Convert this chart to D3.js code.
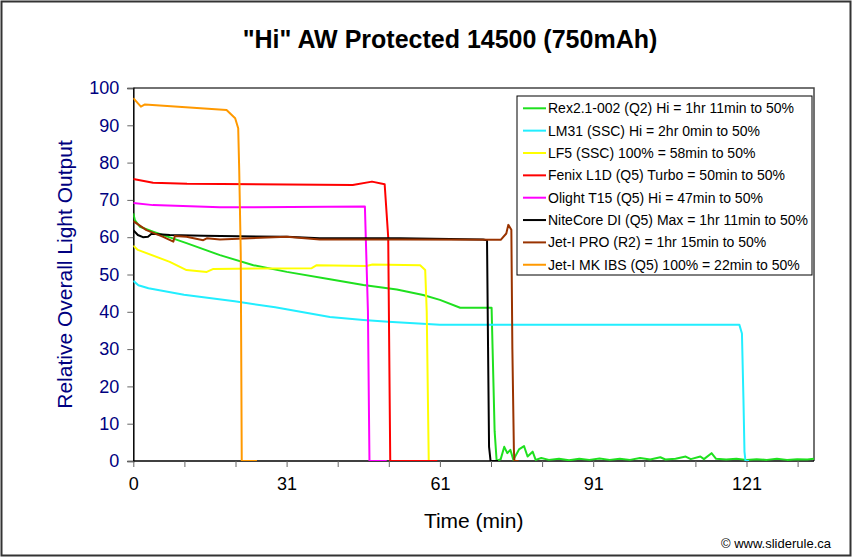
<!DOCTYPE html>
<html lang="en">
<head>
    <meta charset="UTF-8">
    <title>"Hi" AW Protected 14500 (750mAh)</title>
    <style>
        body {
            margin: 0;
            background-color: #fff;
            font-family: Arial, 'Liberation Sans', sans-serif;
        }
        .series {
            fill: none;
            stroke-width: 2;
            stroke-linejoin: round;
        }
    </style>
    <script src="https://d3js.org/d3.v7.min.js"></script>
</head>
<body>
    <div id="chart"></div>
    <script>
        var width = 855;
        var height = 560;

        // Series data: [minutes, relative output]
        var rex = [[0,66.4],[0.3,64.6],[1.3,62.8],[3.9,61.5],[10.5,58.4],[17.1,55.2],[23.7,52.5],[30.3,50.7],
            [38.8,48.7],[45.4,47.2],[52,46],[57.2,44.5],[60.5,43.2],[64.5,41.1],[70.7,41.1],[70.9,30],[71.3,8],
            [71.7,0],[72.5,0.5],[73.2,3.8],[73.8,2.1],[74.4,3.0],[75,0.3],[76.1,3.1],[77.1,4.0],[77.8,1.2],
            [78.8,2.5],[79.4,0.3],[80.5,0.8],[82,0.3],[84,0.6],[86,0.2],[88,0.6],[90,0.3],[92,0.7],[94,0.3],
            [96,0.6],[98,0.3],[100,0.8],[102,0.4],[104,1.0],[105,0.4],[107,0.6],[109,1.2],[110,0.5],[111.9,1.2],
            [112.6,0.5],[114.1,2.1],[115,0.6],[117,0.4],[119,0.6],[121,0.3],[123,0.5],[125,0.3],[127,0.6],
            [129,0.3],[131,0.5],[133,0.4],[134.3,0.6]];
        var lm31 = [[0,48.3],[1,47.1],[3,46.3],[10,44.6],[20,42.8],[28,41.2],[38.8,38.6],[45.4,37.8],[50.3,37.3],
            [60.5,36.5],[119.6,36.5],[120.1,34.2],[120.4,16.4],[120.6,2.5],[120.8,0],[121.5,0]];
        var lf5 = [[0,57.7],[0.9,56.6],[7.2,53.4],[10.5,51.2],[14.5,50.7],[15.8,51.5],[35.2,51.7],[36.2,52.5],
            [46,52.3],[47.2,52.7],[56.6,52.5],[57.6,51.2],[57.9,40],[58.3,0],[59.5,0]];
        var fenix = [[0,75.6],[3.9,74.6],[10.6,74.3],[43.3,74.0],[47.1,74.9],[49.6,74.2],[50.3,60],[50.7,0],[60,0]];
        var olight = [[0,69.2],[3.9,68.6],[17.1,68.0],[45.7,68.2],[46.3,40],[46.6,0],[50,0]];
        var nitecore = [[0,61.9],[0.9,60.6],[1.9,60.0],[2.9,60.1],[3.6,60.9],[7.2,60.6],[13.8,60.4],[30.3,60.1],
            [36.8,59.7],[52.6,59.7],[69,59.4],[69.8,59.2],[70.0,30.6],[70.2,3.8],[70.5,0],[72,0]];
        var jetPro = [[0,64.3],[2.6,61.9],[5.9,60.1],[7.9,58.8],[8.2,60.3],[10.5,60.1],[13.8,59.2],[14.5,59.7],
            [17.1,59.4],[30.3,60.1],[36.8,59.4],[52.6,59.4],[72.5,59.3],[73.6,61],[74,63.3],[74.6,62],
            [74.8,30],[75.1,3],[75.2,0],[76,0]];
        var jetMk = [[0,97.3],[1.5,95.0],[2.3,95.6],[18.4,94.1],[20.1,91.9],[20.7,89.2],[20.9,78],[21.2,55.8],
            [21.4,0],[24.4,0]];

        var seriesNames = ["Rex2.1-002 (Q2) Hi = 1hr 11min to 50%", "LM31 (SSC) Hi = 2hr 0min to 50%",
            "LF5 (SSC) 100% = 58min to 50%", "Fenix L1D (Q5) Turbo = 50min to 50%",
            "Olight T15 (Q5) Hi = 47min to 50%", "NiteCore DI (Q5) Max = 1hr 11min to 50%",
            "Jet-I PRO (R2) = 1hr 15min to 50%", "Jet-I MK IBS (Q5) 100% = 22min to 50%"];
        var seriesData = [rex, lm31, lf5, fenix, olight, nitecore, jetPro, jetMk];
        var seriesColors = ["#1fe01f", "#22eeff", "#ffff00", "#ff0000", "#ff00ff", "#000000", "#993300", "#ff9900"];

        var yTicks = [0, 10, 20, 30, 40, 50, 60, 70, 80, 90, 100];
        var xTickLabels = ["0", "31", "61", "91", "121"];

        // Plot area
        var plotLeft = 133.3, plotRight = 814, plotTop = 88, plotBottom = 461;

        var x = d3.scaleLinear().domain([0, 121]).range([plotLeft, 746.5]);
        var y = d3.scaleLinear().domain([0, 100]).range([plotBottom, plotTop]);

        var svg = d3.select("#chart")
            .append("svg")
            .attr("width", width)
            .attr("height", height);

        // outer chart border
        svg.append("rect")
            .attr("x", 1.5).attr("y", 1.5)
            .attr("width", 849).attr("height", 554)
            .style("fill", "#fff")
            .style("stroke", "#333")
            .style("stroke-width", 2);

        svg.append("text")
            .attr("x", 450).attr("y", 48)
            .attr("text-anchor", "middle")
            .style("font-size", "25px")
            .style("font-weight", "bold")
            .text('"Hi" AW Protected 14500 (750mAh)');

        // clip for the lines
        svg.append("clipPath").attr("id", "clip")
            .append("rect")
            .attr("x", plotLeft).attr("y", plotTop - 10)
            .attr("width", plotRight - plotLeft).attr("height", plotBottom - plotTop + 10);

        // top and right frame of plot area
        svg.append("path")
            .attr("d", "M" + plotLeft + "," + plotTop + "H" + plotRight + "V" + plotBottom)
            .style("fill", "none")
            .style("stroke", "#444")
            .style("stroke-width", 1.5);

        // y axis
        var yAxis = d3.axisLeft(y).tickValues(yTicks).tickSize(6).tickPadding(8);
        var gy = svg.append("g")
            .attr("transform", "translate(" + plotLeft + ",0)")
            .call(yAxis);
        gy.select(".domain").style("stroke", "#000").style("stroke-width", 1.5);
        gy.selectAll(".tick line").style("stroke", "#666");
        gy.selectAll(".tick text")
            .style("font-size", "18px")
            .style("font-family", "Arial, 'Liberation Sans', sans-serif")
            .style("fill", "#000080");

        // x axis: a tick every third of a label step
        var xTickVals = d3.range(0, 14).map(function(i) { return i * 121 / 12; });
        var xAxis = d3.axisBottom(x)
            .tickValues(xTickVals)
            .tickSize(6)
            .tickPadding(10)
            .tickFormat(function(d, i) { return i % 3 === 0 ? xTickLabels[i / 3] : ""; });
        var gx = svg.append("g")
            .attr("transform", "translate(0," + plotBottom + ")")
            .call(xAxis);
        gx.select(".domain").attr("d", "M" + plotLeft + ",0H" + plotRight)
            .style("stroke", "#000").style("stroke-width", 1.5);
        gx.selectAll(".tick line").style("stroke", "#666");
        gx.selectAll(".tick text")
            .style("font-size", "18px")
            .style("font-family", "Arial, 'Liberation Sans', sans-serif")
            .style("fill", "#000");

        // series lines
        var line = d3.line()
            .x(function(d) { return x(d[0]); })
            .y(function(d) { return y(d[1]); });

        svg.append("g")
            .attr("clip-path", "url(#clip)")
            .selectAll("path")
            .data(seriesData)
            .enter()
            .append("path")
            .attr("class", "series")
            .attr("d", line)
            .style("stroke", function(d, i) { return seriesColors[i]; });

        // axis titles
        svg.append("text")
            .attr("transform", "translate(72," + ((plotTop + plotBottom) / 2) + ") rotate(-90)")
            .attr("text-anchor", "middle")
            .style("font-size", "21px")
            .style("fill", "#000080")
            .text("Relative Overall Light Output");

        svg.append("text")
            .attr("x", (plotLeft + plotRight) / 2).attr("y", 528)
            .attr("text-anchor", "middle")
            .style("font-size", "21px")
            .text("Time (min)");

        svg.append("text")
            .attr("x", 831).attr("y", 548)
            .attr("text-anchor", "end")
            .style("font-size", "13px")
            .text("\u00a9 www.sliderule.ca");

        // legend
        var legend = svg.append("g").attr("transform", "translate(517,96)");
        legend.append("rect")
            .attr("width", 295).attr("height", 179)
            .style("fill", "#fff")
            .style("stroke", "#000")
            .style("stroke-width", 1);

        var items = legend.selectAll(".item")
            .data(seriesNames)
            .enter()
            .append("g")
            .attr("class", "item")
            .attr("transform", function(d, i) { return "translate(0," + (12.3 + i * 22.35) + ")"; });

        items.append("line")
            .attr("x1", 6).attr("x2", 29)
            .style("stroke", function(d, i) { return seriesColors[i]; })
            .style("stroke-width", 2);

        items.append("text")
            .attr("x", 31).attr("y", 5)
            .style("font-size", "14px")
            .text(function(d) { return d; });
    </script>
</body>
</html>
